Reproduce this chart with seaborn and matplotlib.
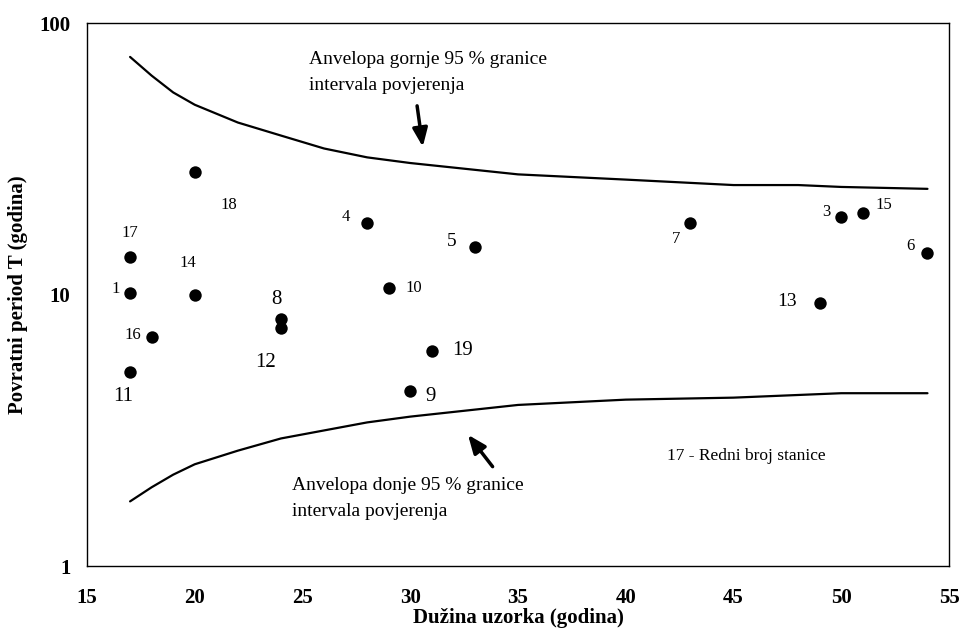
import matplotlib
matplotlib.use("Agg")
import matplotlib.pyplot as plt
import seaborn as sns
import pandas as pd

# ---- data ----
station_ids = [1, 3, 4, 5, 6, 7, 8, 9, 10, 11, 12, 13, 14, 15, 16, 17, 18, 19]
sample_len = [17, 50, 28, 33, 54, 43, 24, 30, 29, 17, 24, 49, 20, 51, 18, 17, 20, 31]
return_period = [10.1, 19.3, 18.3, 14.9, 14.2, 18.3, 8.1, 4.4, 10.6, 5.2, 7.55, 9.3,
                 9.95, 19.9, 6.95, 13.7, 28.3, 6.2]

env_x_upper = [17, 18, 19, 20, 22, 24, 26, 28, 30, 35, 40, 45, 48, 50, 54]
env_upper = [75, 64, 55.5, 50, 43, 38.5, 34.5, 32, 30.5, 27.7, 26.5, 25.3, 25.3, 24.9, 24.5]

env_x_lower = [17, 18, 19, 20, 22, 24, 28, 30, 35, 40, 45, 50, 54]
env_lower = [1.73, 1.95, 2.17, 2.37, 2.66, 2.95, 3.38, 3.55, 3.92, 4.1, 4.17, 4.33, 4.33]

x_ticks = [15, 20, 25, 30, 35, 40, 45, 50, 55]
y_ticks = [1, 10, 100]

# label placement (offset in pixels from point, font size)
label_style = {
    1: (-14, 4, 12), 3: (-15, 5, 12), 4: (-21, 6, 12), 5: (-23, 6, 14),
    6: (-17, 7, 12), 7: (-14, -16, 12), 8: (-5, 20, 15), 9: (20, -5, 15),
    10: (25, 0, 12), 11: (-7, -25, 15), 12: (-15, -35, 15), 13: (-33, 2, 14),
    14: (-7, 32, 12), 15: (21, 8, 12), 16: (-19, 2, 12), 17: (0, 24, 12),
    18: (34, -33, 12), 19: (31, 0, 15),
}

points = pd.DataFrame({"id": station_ids, "x": sample_len, "T": return_period})
upper = pd.DataFrame({"x": env_x_upper, "T": env_upper})
lower = pd.DataFrame({"x": env_x_lower, "T": env_lower})

sns.set_style("white")
plt.rcParams["font.family"] = ["Liberation Serif", "DejaVu Serif"]
plt.rcParams["text.color"] = "black"
plt.rcParams["axes.labelcolor"] = "black"
plt.rcParams["xtick.color"] = "black"
plt.rcParams["ytick.color"] = "black"

fig = plt.figure(figsize=(9.59, 6.32), dpi=100)
ax = fig.add_axes([0.0907, 0.1044, 0.8989, 0.8592])

sns.lineplot(data=upper, x="x", y="T", ax=ax, color="black", linewidth=1.6, sort=False)
sns.lineplot(data=lower, x="x", y="T", ax=ax, color="black", linewidth=1.6, sort=False)
sns.scatterplot(data=points, x="x", y="T", ax=ax, color="black", s=80,
                edgecolor="black", linewidth=0, zorder=5)

for sid, xv, yv in zip(station_ids, sample_len, return_period):
    dx, dy, fs = label_style[sid]
    ax.annotate(str(sid), (xv, yv), xytext=(dx, dy), textcoords="offset pixels",
                ha="center", va="center", fontsize=fs, color="black")

ax.set_yscale("log")
ax.set_xlim(15, 55)
ax.set_ylim(1, 100)
ax.set_xticks(x_ticks)
ax.set_xticklabels([str(t) for t in x_ticks])
ax.set_yticks(y_ticks)
ax.set_yticklabels([str(t) for t in y_ticks])
ax.minorticks_off()
ax.tick_params(axis="both", direction="out", length=5, width=1, color="black",
               labelcolor="black", labelsize=15)
ax.tick_params(axis="x", pad=11)
ax.tick_params(axis="y", pad=7)
for lab in ax.get_xticklabels() + ax.get_yticklabels():
    lab.set_fontweight("bold")

for sp in ax.spines.values():
    sp.set_color("black")
    sp.set_linewidth(1.0)

ax.set_xlabel("Dužina uzorka (godina)", fontsize=15, fontweight="bold", labelpad=0,
              color="black")
ax.set_ylabel("Povratni period T (godina)", fontsize=15, fontweight="bold", labelpad=8,
              color="black")

# annotations
arrow = dict(arrowstyle="-|>,head_width=0.45,head_length=1.1", color="black", lw=2.5)
ax.annotate("", xy=(30.6, 34.2), xytext=(30.3, 50.7), arrowprops=arrow)
ax.text(309 / 959, 1 - 51 / 632, "Anvelopa gornje 95 % granice\nintervala povjerenja",
        transform=fig.transFigure, fontsize=14, ha="left", va="top", linespacing=1.7)

ax.annotate("", xy=(32.6, 3.1), xytext=(33.9, 2.28), arrowprops=arrow)
ax.text(292 / 959, 1 - 477 / 632, "Anvelopa donje 95 % granice\nintervala povjerenja",
        transform=fig.transFigure, fontsize=14, ha="left", va="top", linespacing=1.7)

ax.text(667 / 959, 1 - 456 / 632, "17 - Redni broj stanice",
        transform=fig.transFigure, fontsize=12.5, ha="left", va="center")

fig.savefig("out.png", dpi=100)
